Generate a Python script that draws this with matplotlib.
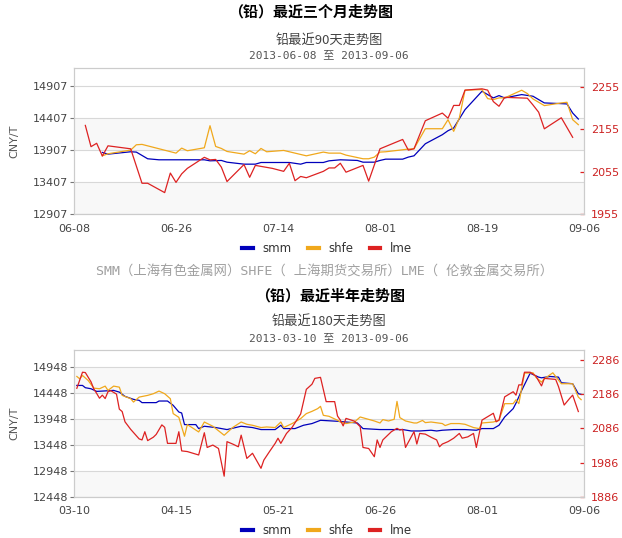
import matplotlib
matplotlib.use('Agg')
import matplotlib.pyplot as plt
import matplotlib.dates as mdates
from matplotlib.lines import Line2D
import pandas as pd

plt.rcParams['font.family'] = ['DejaVu Sans', 'Noto Sans CJK SC']

W, H = 622, 538

# ---- 90 day chart (days counted from 2013-06-08) ----
top_start = '2013-06-08'
top_lme_day = [2, 3, 4, 5, 6, 10, 12, 13, 16, 17, 18, 19, 20, 23, 24, 25, 26, 27, 30, 31, 32, 35,
               37, 38, 39, 40, 41, 44, 45, 46, 47, 48, 51, 52, 54, 58, 59, 60, 62, 65, 66, 67, 68,
               69, 72, 73, 74, 75, 76, 80, 81, 82, 83, 86, 88]
top_lme = [2164, 2114, 2122, 2092, 2116, 2109, 2028, 2028, 2006, 2052, 2030, 2050, 2063, 2089, 2083,
           2084, 2066, 2032, 2072, 2042, 2070, 2063, 2056, 2075, 2034, 2044, 2041, 2056, 2064, 2064,
           2075, 2054, 2070, 2033, 2109, 2131, 2106, 2109, 2175, 2193, 2181, 2211, 2211, 2247, 2250,
           2247, 2220, 2209, 2230, 2228, 2212, 2195, 2156, 2182, 2136]
top_shfe_day = [5, 6, 10, 11, 12, 18, 19, 20, 23, 24, 25, 26, 27, 30, 31, 32, 33, 34, 37, 41, 44, 45,
                47, 48, 51, 52, 53, 54, 55, 58, 59, 60, 62, 65, 66, 67, 68, 69, 72, 73, 74, 75, 76,
                79, 80, 81, 83, 86, 87, 88, 89]
top_shfe = [13818, 13850, 13907, 13990, 13996, 13860, 13938, 13897, 13943, 14287, 13964, 13933,
            13886, 13844, 13897, 13850, 13933, 13881, 13902, 13818, 13876, 13860, 13860, 13829,
            13772, 13772, 13798, 13876, 13881, 13912, 13923, 13928, 14240, 14240, 14381, 14199,
            14407, 14840, 14850, 14709, 14694, 14720, 14720, 14840, 14788, 14704, 14600, 14642,
            14652, 14381, 14303]
top_smm_day = [5, 6, 10, 11, 13, 15, 23, 24, 26, 27, 30, 32, 33, 38, 40, 41, 44, 45, 47, 50, 51, 53,
               54, 55, 58, 59, 60, 62, 65, 66, 67, 69, 72, 74, 75, 76, 79, 81, 83, 86, 87, 88, 89]
top_smm = [13871, 13844, 13881, 13876, 13772, 13756, 13756, 13740, 13746, 13719, 13688, 13688,
           13714, 13714, 13688, 13714, 13714, 13740, 13756, 13746, 13719, 13719, 13746, 13766,
           13766, 13798, 13818, 14006, 14147, 14209, 14251, 14537, 14824, 14720, 14756, 14720,
           14772, 14746, 14642, 14631, 14626, 14485, 14391]
top_left_ticks = [12907, 13407, 13907, 14407, 14907]
top_right_ticks = [1955, 2055, 2155, 2255]

# ---- 180 day chart (days counted from 2013-03-10) ----
bot_start = '2013-03-10'
bot_lme_day = [1, 3, 4, 6, 7, 8, 9, 10, 11, 12, 13, 14, 15, 16, 17, 18, 20, 23, 24, 25, 26, 28, 29,
               31, 32, 33, 36, 37, 38, 40, 42, 44, 46, 47, 49, 51, 53, 54, 56, 58, 59, 61, 63, 66,
               67, 69, 71, 72, 73, 75, 77, 79, 80, 82, 84, 85, 87, 89, 92, 93, 94, 95, 96, 99, 101,
               102, 104, 106, 107, 108, 109, 112, 114, 115, 116, 117, 120, 121, 122, 124, 126, 128,
               129, 130, 132, 134, 136, 137, 139, 141, 142, 144, 146, 148, 149, 150, 152, 153, 155,
               156, 157, 158, 159, 161, 163, 165, 166, 170, 171, 173, 175, 176, 178]
bot_lme = [2203, 2250, 2249, 2222, 2201, 2188, 2174, 2183, 2173, 2193, 2196, 2191, 2186, 2142, 2135,
           2105, 2083, 2055, 2052, 2076, 2050, 2060, 2068, 2096, 2089, 2042, 2042, 2076, 2020, 2018,
           2013, 2008, 2073, 2030, 2037, 2027, 1946, 2047, 2040, 2032, 2066, 1998, 2013, 1969, 1993,
           2018, 2042, 2057, 2042, 2071, 2089, 2115, 2128, 2200, 2215, 2232, 2235, 2164, 2164, 2122,
           2110, 2093, 2115, 2107, 2091, 2030, 2027, 2003, 2052, 2030, 2052, 2076, 2086, 2081, 2083,
           2030, 2076, 2040, 2071, 2069, 2060, 2052, 2032, 2040, 2047, 2057, 2071, 2057, 2061, 2071,
           2030, 2110, 2120, 2130, 2105, 2110, 2178, 2183, 2193, 2183, 2213, 2213, 2250, 2250, 2239,
           2210, 2232, 2229, 2208, 2154, 2174, 2183, 2135]
bot_shfe_day = [1, 2, 3, 5, 7, 9, 11, 12, 14, 16, 17, 20, 21, 23, 26, 28, 30, 32, 34, 35, 37, 39, 40,
                42, 44, 46, 49, 53, 56, 59, 61, 63, 66, 68, 71, 73, 74, 77, 80, 82, 84, 86, 87, 88,
                90, 93, 94, 96, 99, 101, 103, 106, 108, 109, 111, 113, 114, 115, 117, 120, 121, 123,
                124, 126, 130, 131, 133, 136, 138, 141, 143, 144, 148, 150, 152, 155, 156, 157, 159,
                162, 163, 165, 166, 169, 170, 172, 176, 178, 179]
bot_shfe = [14769, 14725, 14788, 14692, 14544, 14532, 14583, 14500, 14583, 14563, 14404, 14340, 14275,
            14371, 14404, 14436, 14487, 14436, 14340, 14052, 13980, 13615, 13840, 13770, 13698, 13890,
            13808, 13634, 13783, 13890, 13846, 13827, 13783, 13794, 13783, 13890, 13783, 13860, 13956,
            14052, 14096, 14148, 14192, 14019, 14000, 13923, 13890, 13860, 13890, 13987, 13956, 13910,
            13871, 13936, 13910, 13942, 14288, 13975, 13910, 13871, 13871, 13920, 13878, 13890, 13860,
            13821, 13860, 13860, 13846, 13783, 13763, 13871, 13890, 13923, 14244, 14244, 14321, 14244,
            14833, 14840, 14756, 14660, 14725, 14840, 14769, 14629, 14629, 14371, 14321]
bot_smm_day = [1, 3, 4, 6, 8, 10, 14, 16, 18, 21, 23, 24, 29, 30, 33, 35, 37, 38, 39, 43, 44, 46, 50,
               54, 59, 63, 66, 71, 73, 74, 78, 81, 84, 87, 93, 96, 100, 102, 108, 116, 119, 122, 126,
               128, 130, 134, 138, 142, 144, 148, 150, 152, 155, 156, 158, 161, 164, 165, 168, 171,
               172, 176, 178, 179]
bot_smm = [14596, 14596, 14552, 14532, 14481, 14487, 14500, 14467, 14385, 14327, 14308, 14264, 14264,
           14295, 14295, 14212, 14083, 14064, 13840, 13840, 13763, 13808, 13783, 13744, 13808, 13783,
           13744, 13744, 13827, 13763, 13763, 13827, 13860, 13923, 13904, 13890, 13871, 13763, 13744,
           13744, 13717, 13717, 13731, 13717, 13731, 13744, 13744, 13731, 13763, 13763, 13827, 13987,
           14148, 14254, 14500, 14833, 14756, 14743, 14769, 14756, 14648, 14629, 14436, 14423]
bot_left_ticks = [12448, 12948, 13448, 13948, 14448, 14948]
bot_right_ticks = [1886, 1986, 2086, 2186, 2286]

SMM_C, SHFE_C, LME_C = '#0000bb', '#f0a81c', '#dd2222'


def to_dates(start, days):
    return pd.Timestamp(start) + pd.to_timedelta(days, unit='D')


def panel(top_px, bot_px, start, span, step, lticks, ltop, rticks, rtop,
          smm_d, smm, shfe_d, shfe, lme_d, lme):
    ax = fig.add_axes([74 / W, 1 - bot_px / H, 510 / W, (bot_px - top_px) / H])
    for i in range(0, len(lticks) - 1, 2):
        ax.axhspan(lticks[i], lticks[i + 1], color='#f8f8f8', lw=0, zorder=0)
    for t in lticks:
        ax.axhline(t, color='#d8d8d8', lw=0.8, zorder=0.5)
    ax.plot(to_dates(start, smm_d), smm, color=SMM_C, lw=0.9, zorder=2)
    ax.plot(to_dates(start, shfe_d), shfe, color=SHFE_C, lw=0.9, zorder=3)
    ax.set_ylim(lticks[0], ltop)
    ax.set_yticks(lticks)
    s = pd.Timestamp(start)
    ax.set_xlim(s, s + pd.Timedelta(days=span))
    ax.set_xticks([s + pd.Timedelta(days=k) for k in range(0, span + 1, step)])
    ax.xaxis.set_major_formatter(mdates.DateFormatter('%m-%d'))
    ax.tick_params(axis='x', length=0, pad=7, labelsize=8, labelcolor='#444444')
    ax.tick_params(axis='y', length=3, width=0.8, color='#777777', pad=1,
                   labelsize=8, labelcolor='#444444')
    ax.set_ylabel('CNY/T', fontsize=8, color='#555555', labelpad=10)
    for sp in ax.spines.values():
        sp.set_color('#cccccc')
        sp.set_linewidth(0.8)

    ax2 = ax.twinx()
    ax2.plot(to_dates(start, lme_d), lme, color=LME_C, lw=0.9)
    ax2.set_ylim(rticks[0], rtop)
    ax2.set_yticks(rticks)
    ax2.tick_params(axis='y', direction='in', length=3, width=0.9, color=LME_C, pad=5,
                    labelsize=8, labelcolor='#cc2222')
    for sp in ax2.spines.values():
        sp.set_color('#cccccc')
        sp.set_linewidth(0.8)
    return ax


fig = plt.figure(figsize=(W / 100, H / 100), dpi=100)

panel(68, 214.3, top_start, 90, 18, top_left_ticks, 15186, top_right_ticks, 2299,
      top_smm_day, top_smm, top_shfe_day, top_shfe, top_lme_day, top_lme)
panel(350, 496.7, bot_start, 180, 36, bot_left_ticks, 15280, bot_right_ticks, 2315,
      bot_smm_day, bot_smm, bot_shfe_day, bot_shfe, bot_lme_day, bot_lme)

cjk = ['Noto Sans CJK SC']
mono = ['DejaVu Sans Mono', 'Noto Sans CJK SC']

fig.text(311 / W, 1 - 12 / H, '（铅）最近三个月走势图', family=cjk, weight='bold',
         fontsize=10.8, ha='center', va='center')
fig.text(329 / W, 1 - 40 / H, '铅最近90天走势图', family=cjk, fontsize=9.5,
         color='#444444', ha='center', va='center')
fig.text(329 / W, 1 - 55 / H, '2013-06-08 至 2013-09-06', family=mono, fontsize=8,
         color='#555555', ha='center', va='center')

fig.text(325 / W, 1 - 272 / H, 'SMM（上海有色金属网）SHFE（ 上海期货交易所）LME（ 伦敦金属交易所）',
         family=mono, fontsize=9.6, color='#a0a0a0', ha='center', va='center')

fig.text(330 / W, 1 - 296 / H, '（铅）最近半年走势图', family=cjk, weight='bold',
         fontsize=10.8, ha='center', va='center')
fig.text(329 / W, 1 - 321 / H, '铅最近180天走势图', family=cjk, fontsize=9.5,
         color='#444444', ha='center', va='center')
fig.text(329 / W, 1 - 338 / H, '2013-03-10 至 2013-09-06', family=mono, fontsize=8,
         color='#555555', ha='center', va='center')

handles = [Line2D([], [], color=SMM_C, lw=3), Line2D([], [], color=SHFE_C, lw=3),
           Line2D([], [], color=LME_C, lw=3)]
for ly in (249, 531):
    fig.legend(handles, ['smm', 'shfe', 'lme'], loc='center', bbox_to_anchor=(327 / W, 1 - ly / H),
               ncol=3, frameon=False, fontsize=8.5, handlelength=0.9, handletextpad=0.8,
               columnspacing=1.4, labelcolor='#333333', borderpad=0)

fig.savefig('out.png', dpi=100)
